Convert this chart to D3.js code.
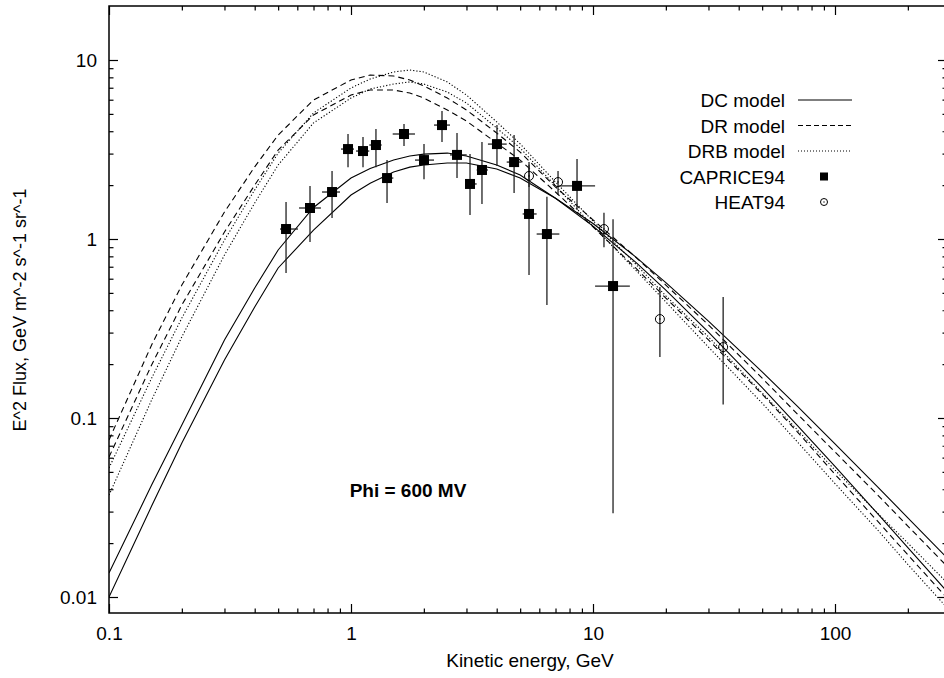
<!DOCTYPE html>
<html lang="en">
<head>
<meta charset="utf-8">
<title>Positron flux</title>
<script src="https://d3js.org/d3.v7.min.js"></script>
<style>
  body { margin: 0; background: white; }
  text { font-family: "Liberation Sans", Arial, Helvetica, sans-serif; fill: #000; }
</style>
</head>
<body>
<svg id="chart" width="944" height="678"></svg>
<script>
// model grid (GeV) and E^2 flux for each model (two curves per model)
const energy = [0.1, 0.15, 0.2, 0.3, 0.4, 0.5, 0.7, 1, 1.2, 1.5, 1.75, 2, 2.5, 3, 4, 5, 7, 10, 15, 20, 30, 50, 70, 100, 150, 200, 300];

const dcUpper  = [0.0136, 0.0422, 0.0913, 0.273, 0.532, 0.868, 1.50, 2.19, 2.48, 2.76, 2.91, 2.98, 3.02, 2.91, 2.59, 2.28, 1.69, 1.22, 0.795, 0.571, 0.348, 0.181, 0.116, 0.0717, 0.0412, 0.0277, 0.0158];
const dcLower  = [0.0100, 0.0322, 0.0725, 0.211, 0.417, 0.689, 1.12, 1.76, 2.05, 2.37, 2.52, 2.59, 2.66, 2.66, 2.46, 2.19, 1.69, 1.18, 0.742, 0.518, 0.302, 0.148, 0.0908, 0.0536, 0.0292, 0.0189, 0.0102];
const drUpper  = [0.0754, 0.256, 0.553, 1.415, 2.53, 3.81, 5.98, 7.73, 8.24, 8.14, 7.73, 7.16, 6.13, 5.26, 3.91, 3.06, 1.95, 1.28, 0.793, 0.553, 0.331, 0.167, 0.105, 0.0646, 0.0372, 0.0249, 0.0142];
const drLower  = [0.0605, 0.198, 0.428, 1.094, 2.0, 3.14, 4.93, 6.37, 6.80, 6.80, 6.54, 6.13, 5.26, 4.56, 3.44, 2.76, 1.83, 1.17, 0.689, 0.468, 0.273, 0.136, 0.0835, 0.0485, 0.0265, 0.0172, 0.0094];
const drbUpper = [0.0526, 0.167, 0.362, 0.987, 1.88, 3.02, 5.06, 6.98, 7.83, 8.57, 8.79, 8.57, 7.54, 6.37, 4.51, 3.40, 2.08, 1.26, 0.725, 0.481, 0.284, 0.138, 0.0857, 0.0512, 0.0294, 0.0200, 0.0115];
const drbLower = [0.0371, 0.126, 0.284, 0.814, 1.59, 2.59, 4.45, 6.13, 6.89, 7.34, 7.54, 7.34, 6.62, 5.75, 4.17, 3.22, 1.98, 1.18, 0.671, 0.445, 0.249, 0.121, 0.0734, 0.043, 0.0237, 0.0152, 0.0083];

// CAPRICE94 data
const capE      = [0.539, 0.677, 0.835, 0.972, 1.121, 1.268, 1.409, 1.656, 2.003, 2.377, 2.742, 3.103, 3.477, 4.01, 4.72, 5.44, 6.45, 8.59, 12.1];
const capELo    = [0.509, 0.610, 0.759, 0.909, 1.049, 1.19, 1.339, 1.487, 1.838, 2.203, 2.565, 2.96, 3.306, 3.68, 4.40, 5.12, 5.85, 7.31, 10.2];
const capEHi    = [0.604, 0.751, 0.901, 1.029, 1.19, 1.339, 1.496, 1.838, 2.203, 2.565, 3.006, 3.306, 3.68, 4.40, 5.07, 5.85, 7.26, 10.2, 14.2];
const capFlux   = [1.137, 1.49, 1.83, 3.18, 3.10, 3.35, 2.19, 3.86, 2.76, 4.33, 2.95, 2.03, 2.43, 3.39, 2.69, 1.38, 1.066, 1.98, 0.546];
const capFluxLo = [0.646, 0.962, 1.31, 2.52, 2.52, 2.52, 1.59, 3.31, 2.16, 3.48, 2.19, 1.36, 1.57, 2.56, 1.81, 0.629, 0.428, 1.45, 0.0294];
const capFluxHi = [1.61, 1.98, 2.40, 3.86, 3.71, 4.12, 2.76, 4.39, 3.39, 5.19, 3.91, 2.98, 3.48, 4.33, 3.81, 2.69, 1.72, 2.80, 1.29];

// HEAT94 data
const heatE      = [5.44, 7.17, 11.1, 18.9, 34.5];
const heatFlux   = [2.25, 2.08, 1.137, 0.357, 0.249];
const heatFluxLo = [1.95, 1.76, 0.90, 0.219, 0.119];
const heatFluxHi = [2.6, 2.40, 1.40, 0.539, 0.474];

const xTicks = [0.1, 1, 10, 100];
const xTickLabels = ["0.1", "1", "10", "100"];
const yTicks = [0.01, 0.1, 1, 10];
const yTickLabels = ["0.01", "0.1", "1", "10"];

const svg = d3.select("#chart");
const plotLeft = 109, plotRight = 947, plotTop = 6, plotBottom = 613;

// 242 px per decade in x, 179 px per decade in y
const x = d3.scaleLog().domain([0.1, 100]).range([plotLeft, 835]);
const y = d3.scaleLog().domain([0.01, 10]).range([597, 60]);

svg.append("defs").append("clipPath").attr("id", "plotclip")
   .append("rect").attr("x", plotLeft).attr("y", plotTop)
   .attr("width", plotRight - plotLeft).attr("height", plotBottom - plotTop);

// minor tick values
const decades = [0.1, 1, 10, 100];
let xMinor = [];
decades.forEach(d => { for (let k = 2; k <= 9; k++) { if (d * k < x.invert(plotRight)) xMinor.push(d * k); } });
let yMinor = [];
[0.01, 0.1, 1].forEach(d => { for (let k = 2; k <= 9; k++) yMinor.push(d * k); });

function styleAxis(g) {
  g.select(".domain").remove();
  g.selectAll(".tick line").attr("stroke", "#000").attr("stroke-width", 1.2);
  g.selectAll(".tick text").style("font-size", "19px").attr("fill", "#000");
}

// bottom axis
svg.append("g").attr("transform", `translate(0,${plotBottom})`)
   .call(d3.axisBottom(x).tickValues(xTicks).tickFormat((d, i) => xTickLabels[i])
          .tickSizeInner(-9).tickSizeOuter(0).tickPadding(13.5))
   .call(styleAxis);
svg.append("g").attr("transform", `translate(0,${plotBottom})`)
   .call(d3.axisBottom(x).tickValues(xMinor).tickFormat("").tickSizeInner(-4.5).tickSizeOuter(0))
   .call(styleAxis);
// top axis
svg.append("g").attr("transform", `translate(0,${plotTop})`)
   .call(d3.axisTop(x).tickValues(xTicks).tickFormat("").tickSizeInner(-9).tickSizeOuter(0))
   .call(styleAxis);
svg.append("g").attr("transform", `translate(0,${plotTop})`)
   .call(d3.axisTop(x).tickValues(xMinor).tickFormat("").tickSizeInner(-4.5).tickSizeOuter(0))
   .call(styleAxis);
// left axis
svg.append("g").attr("transform", `translate(${plotLeft},0)`)
   .call(d3.axisLeft(y).tickValues(yTicks).tickFormat((d, i) => yTickLabels[i])
          .tickSizeInner(-9).tickSizeOuter(0).tickPadding(12))
   .call(styleAxis);
svg.append("g").attr("transform", `translate(${plotLeft},0)`)
   .call(d3.axisLeft(y).tickValues(yMinor).tickFormat("").tickSizeInner(-4.5).tickSizeOuter(0))
   .call(styleAxis);
// right axis
svg.append("g").attr("transform", `translate(${plotRight},0)`)
   .call(d3.axisRight(y).tickValues(yTicks).tickFormat("").tickSizeInner(-9).tickSizeOuter(0))
   .call(styleAxis);
svg.append("g").attr("transform", `translate(${plotRight},0)`)
   .call(d3.axisRight(y).tickValues(yMinor).tickFormat("").tickSizeInner(-4.5).tickSizeOuter(0))
   .call(styleAxis);

// frame
svg.append("rect").attr("x", plotLeft).attr("y", plotTop)
   .attr("width", plotRight - plotLeft).attr("height", plotBottom - plotTop)
   .attr("fill", "none").attr("stroke", "#000").attr("stroke-width", 1.5);

// model curves
const line = d3.line().x(d => x(d[0])).y(d => y(d[1]));
const curves = [
  { vals: dcUpper,  dash: null },
  { vals: dcLower,  dash: null },
  { vals: drUpper,  dash: "6,4" },
  { vals: drLower,  dash: "6,4" },
  { vals: drbUpper, dash: "1.2,2" },
  { vals: drbLower, dash: "1.2,2" }
];
const plot = svg.append("g").attr("clip-path", "url(#plotclip)");
curves.forEach(c => {
  plot.append("path")
      .datum(energy.map((e, i) => [e, c.vals[i]]))
      .attr("fill", "none")
      .attr("stroke", "#000")
      .attr("stroke-width", 1.1)
      .attr("stroke-dasharray", c.dash)
      .attr("d", line);
});

// CAPRICE94 points with x and y error bars
const cap = capE.map((e, i) => ({ e: e, elo: capELo[i], ehi: capEHi[i], f: capFlux[i], flo: capFluxLo[i], fhi: capFluxHi[i] }));
const capG = plot.selectAll("g.cap").data(cap).join("g").attr("class", "cap");
capG.append("line").attr("x1", d => x(d.e)).attr("x2", d => x(d.e))
    .attr("y1", d => y(d.flo)).attr("y2", d => y(d.fhi))
    .attr("stroke", "#222").attr("stroke-width", 1.3);
capG.append("line").attr("x1", d => x(d.elo)).attr("x2", d => x(d.ehi))
    .attr("y1", d => y(d.f)).attr("y2", d => y(d.f))
    .attr("stroke", "#222").attr("stroke-width", 1.3);
capG.append("rect").attr("x", d => x(d.e) - 5).attr("y", d => y(d.f) - 5)
    .attr("width", 10).attr("height", 10).attr("fill", "#000");

// HEAT94 points
const heat = heatE.map((e, i) => ({ e: e, f: heatFlux[i], flo: heatFluxLo[i], fhi: heatFluxHi[i] }));
const heatG = plot.selectAll("g.heat").data(heat).join("g").attr("class", "heat");
heatG.append("line").attr("x1", d => x(d.e)).attr("x2", d => x(d.e))
     .attr("y1", d => y(d.flo)).attr("y2", d => y(d.fhi))
     .attr("stroke", "#222").attr("stroke-width", 1.3);
heatG.append("circle").attr("cx", d => x(d.e)).attr("cy", d => y(d.f)).attr("r", 4.5)
     .attr("fill", "none").attr("stroke", "#000").attr("stroke-width", 1);
heatG.append("circle").attr("cx", d => x(d.e)).attr("cy", d => y(d.f)).attr("r", 0.8)
     .attr("fill", "#000");

// legend
const legendItems = [
  { label: "DC model",  kind: "line", dash: null },
  { label: "DR model",  kind: "line", dash: "5,3" },
  { label: "DRB model", kind: "line", dash: "1,2" },
  { label: "CAPRICE94", kind: "square" },
  { label: "HEAT94",    kind: "circle" }
];
const legend = svg.append("g");
legendItems.forEach((item, i) => {
  const cy = 100 + i * 25.5;
  legend.append("text").attr("x", 785).attr("y", cy + 7)
        .attr("text-anchor", "end").style("font-size", "19px").text(item.label);
  if (item.kind === "line") {
    legend.append("line").attr("x1", 798).attr("x2", 852).attr("y1", cy).attr("y2", cy)
          .attr("stroke", "#000").attr("stroke-width", 1.1).attr("stroke-dasharray", item.dash);
  } else if (item.kind === "square") {
    legend.append("rect").attr("x", 820).attr("y", cy - 4).attr("width", 8).attr("height", 8).attr("fill", "#000");
  } else {
    legend.append("circle").attr("cx", 824).attr("cy", cy).attr("r", 3.5)
          .attr("fill", "none").attr("stroke", "#000").attr("stroke-width", 1);
    legend.append("circle").attr("cx", 824).attr("cy", cy).attr("r", 0.7).attr("fill", "#000");
  }
});

// annotation and axis titles
svg.append("text").attr("x", 408).attr("y", 497).attr("text-anchor", "middle")
   .style("font-size", "19px").style("font-weight", "bold").text("Phi = 600 MV");

svg.append("text").attr("x", 530).attr("y", 667).attr("text-anchor", "middle")
   .style("font-size", "19px").text("Kinetic energy, GeV");

svg.append("text").attr("transform", "translate(26,310) rotate(-90)")
   .attr("text-anchor", "middle").style("font-size", "18px")
   .text("E^2 Flux, GeV m^-2 s^-1 sr^-1");
</script>
</body>
</html>
